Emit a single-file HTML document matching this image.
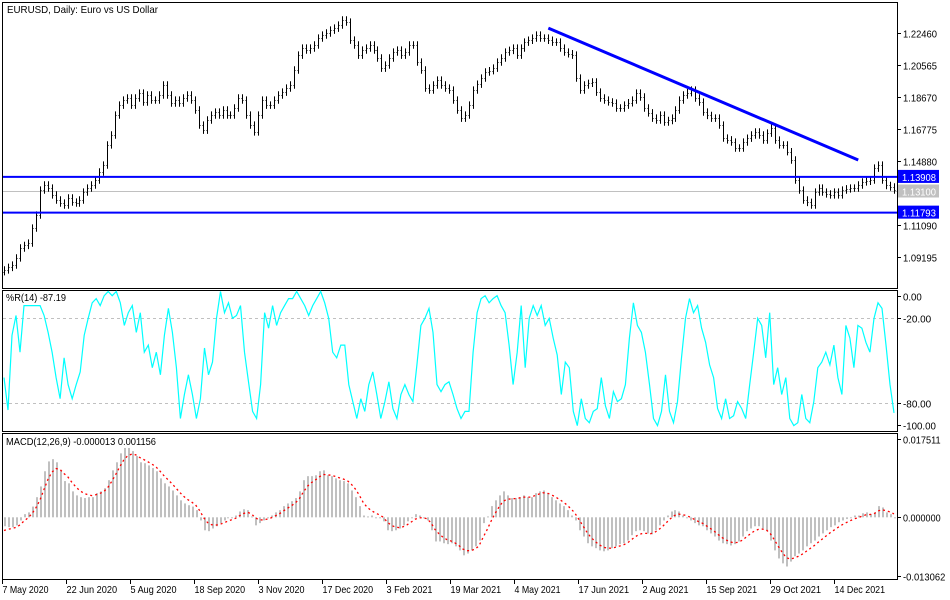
<!DOCTYPE html>
<html><head><meta charset="utf-8"><style>
html,body{margin:0;padding:0;background:#fff;}
svg{display:block;font-family:"Liberation Sans",sans-serif;}
</style></head><body>
<svg id="chart" width="950" height="600" viewBox="0 0 950 600" xmlns="http://www.w3.org/2000/svg"></svg>
<script>
// ---- data ----
const priceCloses = [1.0840,1.0855,1.0869,1.0911,1.0970,1.0985,1.0999,1.1088,1.1165,1.1313,1.1343,1.1325,1.1284,1.1254,1.1236,1.1224,1.1266,1.1242,1.1236,1.1254,1.1301,1.1325,1.1343,1.1372,1.1420,1.1461,1.1580,1.1639,1.1757,1.1816,1.1846,1.1858,1.1816,1.1858,1.1887,1.1834,1.1876,1.1846,1.1846,1.1876,1.1935,1.1876,1.1828,1.1846,1.1828,1.1858,1.1876,1.1846,1.1787,1.1698,1.1668,1.1728,1.1757,1.1775,1.1757,1.1787,1.1757,1.1757,1.1799,1.1858,1.1846,1.1757,1.1698,1.1657,1.1757,1.1846,1.1816,1.1816,1.1846,1.1876,1.1893,1.1917,1.1935,1.2024,1.2112,1.2154,1.2142,1.2154,1.2172,1.2213,1.2231,1.2243,1.2260,1.2272,1.2290,1.2320,1.2308,1.2201,1.2172,1.2112,1.2142,1.2154,1.2172,1.2142,1.2095,1.2035,1.2053,1.2095,1.2130,1.2142,1.2112,1.2130,1.2172,1.2172,1.2071,1.2024,1.1917,1.1905,1.1935,1.1964,1.1935,1.1917,1.1905,1.1846,1.1787,1.1739,1.1757,1.1816,
1.1905,1.1940,1.1976,1.2012,1.2020,1.2035,1.2071,1.2095,1.2130,1.2140,1.2154,1.2112,1.2154,1.2189,1.2200,1.2213,1.2231,1.2213,1.2213,1.2200,1.2189,1.2189,1.2154,1.2130,1.2120,1.2112,1.1976,1.1905,1.1935,1.1945,1.1953,1.1893,1.1858,1.1846,1.1835,1.1828,1.1799,1.1799,1.1816,1.1830,1.1846,1.1887,1.1864,1.1799,1.1770,1.1739,1.1728,1.1757,1.1716,1.1725,1.1739,1.1787,1.1846,1.1876,1.1890,1.1905,1.1858,1.1834,1.1775,1.1755,1.1739,1.1739,1.1698,1.1621,1.1610,1.1597,1.1562,1.1562,1.1597,1.1620,1.1639,1.1657,1.1639,1.1609,1.1650,1.1680,1.1609,1.1580,1.1580,1.1540,1.1491,1.1372,1.1313,1.1254,1.1240,1.1224,1.1301,1.1325,1.1301,1.1290,1.1284,1.1301,1.1284,1.1313,1.1320,1.1325,1.1325,1.1343,1.1361,1.1365,1.1372,1.1443,1.1461,1.1372,1.1340,1.1331,1.1313];
const wprValues = [-62,-85,-32,-18,-44,-11,-11,-11,-11,-11,-18,-30,-44,-62,-77,-48,-67,-77,-67,-58,-32,-20,-9,-6,-11,-4,-1,-4,-1,-9,-25,-16,-11,-30,-16,-44,-39,-55,-44,-60,-32,-13,-30,-55,-91,-74,-60,-74,-91,-77,-41,-60,-51,-20,-1,-16,-9,-20,-18,-11,-44,-65,-86,-91,-67,-16,-27,-11,-25,-16,-11,-6,-6,-1,-6,-11,-18,-11,-6,-1,-9,-20,-44,-48,-39,-39,-67,-79,-91,-77,-86,-67,-58,-74,-91,-79,-65,-84,-91,-74,-67,-74,-79,-53,-25,-20,-13,-30,-67,-72,-67,-65,-74,-84,-91,-86,-86,-44,
-16,-6,-4,-9,-6,-4,-11,-16,-39,-67,-44,-11,-55,-20,-11,-18,-11,-25,-20,-34,-46,-74,-51,-55,-86,-96,-77,-91,-94,-86,-84,-62,-82,-91,-72,-79,-77,-67,-34,-9,-25,-30,-44,-67,-91,-96,-86,-60,-86,-94,-79,-48,-20,-6,-16,-11,-27,-37,-53,-62,-84,-91,-77,-91,-89,-79,-84,-91,-67,-44,-20,-25,-48,-16,-67,-55,-74,-62,-91,-96,-94,-74,-91,-94,-79,-55,-51,-44,-53,-39,-62,-74,-25,-34,-55,-25,-27,-37,-44,-20,-9,-13,-39,-67,-87];
const macdMilli = [-2.0,-2.2,-2.2,-1.8,-0.7,0.7,1.1,2.4,4.5,6.9,10.3,12.5,13.0,12.3,10.5,8.1,7.6,5.8,4.9,4.5,4.3,4.5,4.5,5.4,5.8,6.5,8.3,10.5,12.3,14.3,15.5,15.5,14.8,13.7,12.3,12.1,11.6,11.0,10.3,8.7,7.6,6.9,6.0,4.9,3.8,3.1,2.7,2.4,1.6,-0.7,-2.9,-3.1,-2.5,-2.0,-1.3,-0.7,-0.2,0,0.4,1.3,1.8,1.6,0.2,-1.8,-1.3,-0.7,0,0.4,1.1,1.6,2.5,3.1,3.6,4.3,5.8,8.3,9.2,9.2,9.4,10.3,10.5,9.4,9.2,8.7,8.3,8.1,7.6,6.0,4.5,2.5,0.4,0.2,0.4,0,-0.2,-0.9,-2.9,-3.1,-2.9,-2.5,-1.8,-0.9,0,0.7,0.4,0,-0.7,-2.9,-5.4,-5.4,-5.8,-6.0,-5.8,-6.5,-7.4,-8.5,-8.1,-7.4,-6.5,
-5.2,-1.3,0.2,2.5,3.8,4.9,5.8,4.9,4.3,4.3,4.5,4.9,4.5,4.5,5.4,5.8,6.0,5.4,4.5,3.8,3.1,2.5,1.6,0.4,-0.7,-2.9,-4.3,-5.8,-6.5,-6.9,-7.4,-7.6,-7.4,-6.9,-6.5,-6.0,-5.8,-5.2,-4.0,-3.1,-2.9,-3.1,-3.6,-3.8,-2.9,-1.8,-0.7,0.4,1.3,1.6,1.3,0.4,0,-0.7,-1.3,-1.8,-2.0,-2.9,-3.6,-4.3,-5.2,-5.8,-6.0,-6.3,-6.0,-5.4,-4.3,-3.1,-2.5,-2.0,-2.0,-2.5,-3.1,-5.2,-7.4,-9.2,-10.3,-11.0,-9.9,-8.7,-8.1,-7.4,-6.5,-5.8,-5.2,-4.3,-3.6,-2.9,-2.2,-1.8,-1.1,-0.7,-0.4,0,0.4,0.4,0.9,1.1,0.7,1.1,2.5,2.2,1.1,0.7,0];
const dateLabels = ["7 May 2020","22 Jun 2020","5 Aug 2020","18 Sep 2020","3 Nov 2020","17 Dec 2020","3 Feb 2021","19 Mar 2021","4 May 2021","17 Jun 2021","2 Aug 2021","15 Sep 2021","29 Oct 2021","14 Dec 2021"];
const priceTicks = [1.22460,1.20565,1.18670,1.16775,1.14880,1.11090,1.09195];
const levelLines = [1.13908,1.11793];
const currentPrice = 1.13100;
const trendStart = [137, 1.2272];
const trendEnd = [215, 1.1491];
const wprTicks = [0,-20,-80,-100];
const wprLevels = [-20,-80];
const macdTicks = [0.017511,0,-0.013062];

// ---- scales ----
const NS='http://www.w3.org/2000/svg';
const svg=document.getElementById('chart');
const X0=4, X1=894;
function xIdx(i,n){return X0+i*(X1-X0)/(n-1);}
function yPrice(p){return 32.5+(1.22460-p)*1688.7;}
function yWpr(v){return 290.1-v*1.411;}
function yMacd(v){return 517.3-v*4472;}
function mk(tag,attrs,parent){const e=document.createElementNS(NS,tag);for(const k in attrs)e.setAttribute(k,attrs[k]);(parent||svg).appendChild(e);return e;}
function txt(s,x,y,attrs,parent){const t=mk('text',Object.assign({x:x,y:y,'font-size':'10.5',fill:'#000'},attrs||{}),parent);t.textContent=s;return t;}
function numW(s){return s.length*4.7;}

let f;
f=mk('rect',{x:2.5,y:2.5,width:895,height:286,fill:'none',stroke:'#000'});


f=mk('rect',{x:2.5,y:290.5,width:895,height:141,fill:'none',stroke:'#000'});


f=mk('rect',{x:2.5,y:433.5,width:895,height:146,fill:'none',stroke:'#000'});



const pAxis=mk('g',{});


priceTicks.forEach(p=>{const y=Math.round(yPrice(p))+0.5;mk('line',{x1:897,x2:901,y1:y,y2:y,stroke:'#000'},pAxis);const s=p.toFixed(5);const t=txt(s,903,y+4,{textLength:34,lengthAdjust:'spacingAndGlyphs'},pAxis);});

const cy=Math.round(yPrice(currentPrice))+0.5;
f=mk('line',{x1:3,x2:897,y1:cy,y2:cy,stroke:'#c0c0c0'});



const bars=mk('g',{stroke:'#000','stroke-width':1});


const n=priceCloses.length;
for(let i=0;i<n;i++){
  const c=priceCloses[i], o=i>0?priceCloses[i-1]:c-0.001;
  const hi=Math.max(o,c)+0.0022, lo=Math.min(o,c)-0.0022;
  const x=Math.round(xIdx(i,n))+0.5;
  const b=mk('path',{d:`M${x},${yPrice(hi)}V${yPrice(lo)}M${x-1},${Math.round(yPrice(o))+0.5}h1M${x},${Math.round(yPrice(c))+0.5}h1`},bars);
  
  
}

levelLines.forEach(p=>{const y=yPrice(p);
  const l=mk('line',{x1:3,x2:897,y1:y,y2:y,stroke:'#0000ff','stroke-width':2});
  
  
  const r=mk('rect',{x:898,y:y-7,width:41,height:13,fill:'#0000ff'});
  
  
  const t=txt(p.toFixed(5),902,y+4,{fill:'#fff',textLength:34,lengthAdjust:'spacingAndGlyphs'});
  
  
});
f=mk('rect',{x:898,y:cy-7,width:41,height:13,fill:'#c0c0c0'});


f=txt(currentPrice.toFixed(5),902,cy+4,{fill:'#fff',textLength:34,lengthAdjust:'spacingAndGlyphs'});



f=mk('line',{x1:xIdx(trendStart[0],n),y1:yPrice(trendStart[1]),x2:xIdx(trendEnd[0],n),y2:yPrice(trendEnd[1]),stroke:'#0000ff','stroke-width':3});



f=txt('EURUSD, Daily:  Euro vs US Dollar',7,13,{textLength:151,lengthAdjust:'spacingAndGlyphs'});



wprLevels.forEach(v=>{const y=Math.round(yWpr(v))+0.5;const l=mk('line',{x1:3,x2:897,y1:y,y2:y,stroke:'#c0c0c0','stroke-dasharray':'3,3'});});
const nw=wprValues.length;
f=mk('polyline',{points:wprValues.map((v,i)=>xIdx(i,nw).toFixed(1)+','+yWpr(v).toFixed(1)).join(' '),fill:'none',stroke:'#00ffff','stroke-width':1.2});


wprTicks.forEach(v=>{let y=Math.round(yWpr(v))+0.5; if(v===0)y=296.5; if(v===-100)y=425.5; mk('line',{x1:897,x2:901,y1:y,y2:y,stroke:'#000'});const s=v.toFixed(2);const t=txt(s,903,y+4,{textLength:numW(s),lengthAdjust:'spacingAndGlyphs'});});
f=txt('%R(14) -87.19',6,301,{textLength:60,lengthAdjust:'spacingAndGlyphs'});



const nm=macdMilli.length;
const hist=mk('g',{fill:'#c0c0c0'});


macdMilli.forEach((m,i)=>{const v=m*0.001;const y0=yMacd(0),y=yMacd(v);const x=Math.round(xIdx(i,nm));
  const r=mk('rect',{x:x,y:Math.min(y0,y),width:2,height:Math.max(1,Math.abs(y-y0))},hist);
  
  });
const sig=[];let e=macdMilli[0]-1.5;const a=0.36;
macdMilli.forEach(m=>{e=e+a*(m-e);sig.push(e);});
f=mk('polyline',{points:sig.map((m,i)=>xIdx(i,nm).toFixed(1)+','+yMacd(m*0.001).toFixed(1)).join(' '),fill:'none',stroke:'#ff0000','stroke-width':1.3,'stroke-dasharray':'2,3'});


macdTicks.forEach(v=>{let y=Math.round(yMacd(v))+0.5;mk('line',{x1:897,x2:901,y1:y,y2:y,stroke:'#000'});const s=v.toFixed(6);const t=txt(s,903,y+4,{textLength:numW(s),lengthAdjust:'spacingAndGlyphs'});});
f=txt('MACD(12,26,9) -0.000013 0.001156',6,445,{textLength:150,lengthAdjust:'spacingAndGlyphs'});



dateLabels.forEach((d,k)=>{const x=Math.round(2+k*64)+0.5;mk('line',{x1:x,x2:x,y1:580,y2:584,stroke:'#000'});const t=txt(d,x,593,{textLength:d.length*4.6,lengthAdjust:'spacingAndGlyphs'});});
</script>
</body></html>
